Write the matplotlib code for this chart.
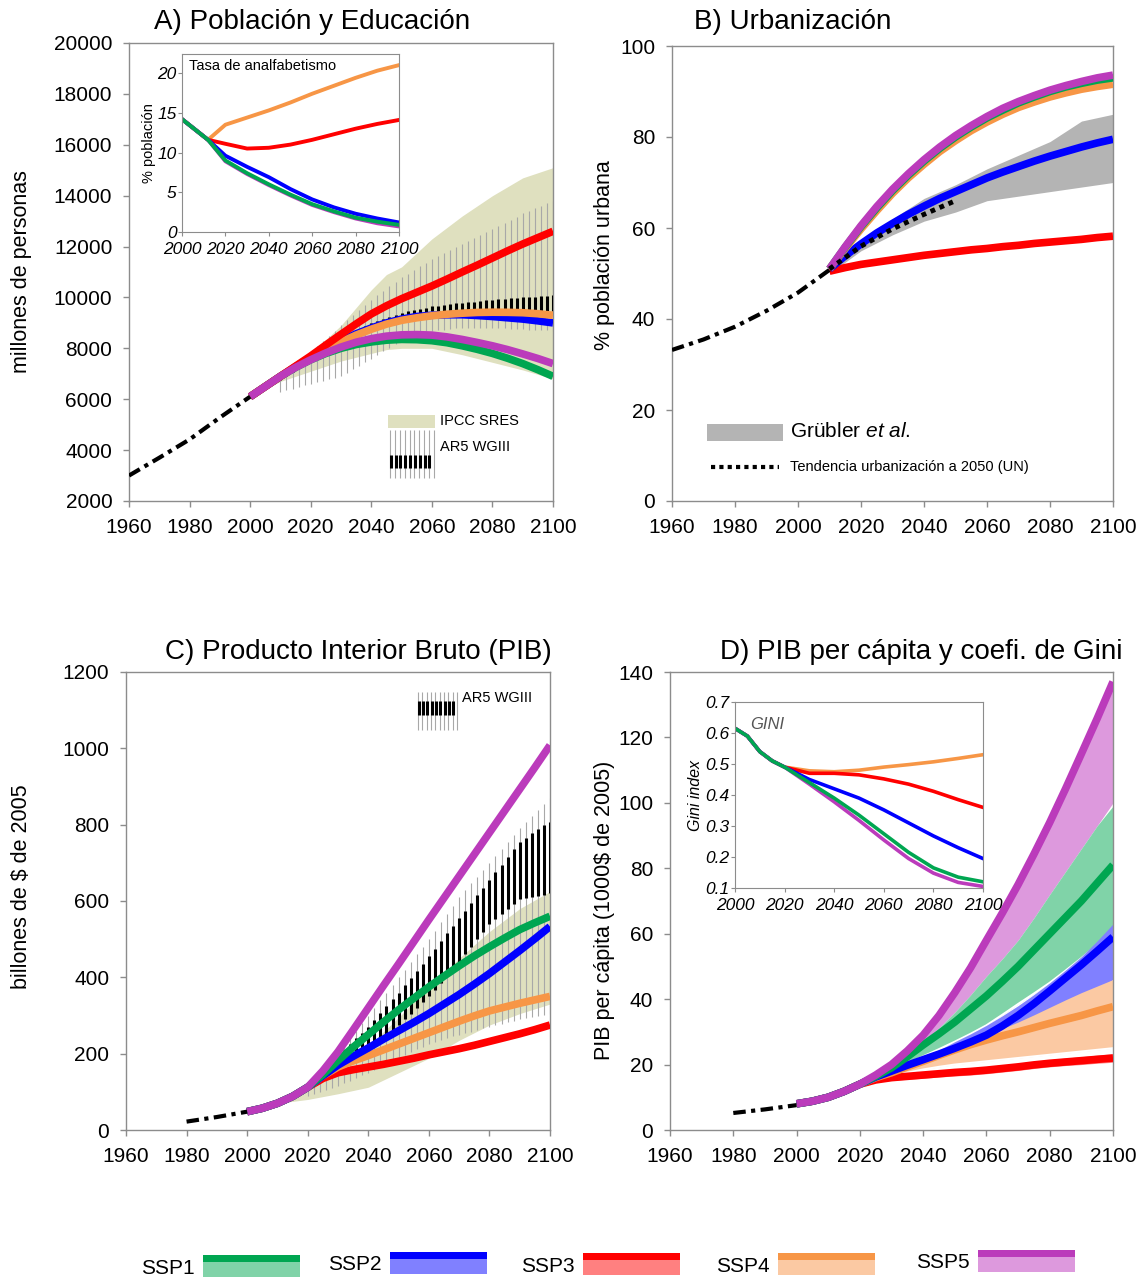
import matplotlib.pyplot as plt
from matplotlib.patches import Rectangle
import numpy as np

plt.rcParams["font.family"] = ["Liberation Sans", "DejaVu Sans"]
plt.rcParams["mathtext.fontset"] = "custom"
plt.rcParams["mathtext.rm"] = "Liberation Sans"
plt.rcParams["mathtext.it"] = "Liberation Sans:italic"

W, H = 1145, 1282

ssp_names = ["SSP1", "SSP2", "SSP3", "SSP4", "SSP5"]
ssp_colors = ["#00a651", "#0000ff", "#ff0000", "#f79646", "#bb3bbb"]
ssp_light = ["#80d3a8", "#8080ff", "#ff8080", "#fbc9a3", "#dd99dd"]
SRES_COLOR = "#dfe0bf"
HIST_STYLE = (0, (3, 1.3, 1, 1.3))

years5 = list(range(2000, 2101, 5))

# ---- A) poblacion (millones)
pop_hist_years = [1960, 1970, 1980, 1990, 2000]
pop_hist = [3000, 3700, 4420, 5280, 6100]
pop_ssp1 = [6100, 6500, 6900, 7250, 7550, 7800, 8000, 8150, 8250, 8320, 8350, 8340, 8300, 8220, 8100,
            7960, 7800, 7610, 7400, 7160, 6900]
pop_ssp2 = [6100, 6500, 6900, 7280, 7650, 8000, 8300, 8570, 8800, 9000, 9150, 9250, 9300, 9320, 9320,
            9290, 9250, 9200, 9150, 9080, 9000]
pop_ssp3 = [6100, 6500, 6900, 7300, 7700, 8130, 8550, 8960, 9350, 9670, 9950, 10200, 10450, 10720,
            11000, 11270, 11550, 11830, 12100, 12350, 12600]
pop_ssp4 = [6100, 6500, 6900, 7280, 7650, 7970, 8250, 8520, 8750, 8950, 9100, 9200, 9280, 9340, 9380,
            9410, 9420, 9415, 9400, 9360, 9300]
pop_ssp5 = [6100, 6500, 6900, 7250, 7550, 7820, 8050, 8240, 8380, 8480, 8530, 8540, 8520, 8450, 8350,
            8230, 8100, 7950, 7780, 7600, 7400]
pop_sres_years = [2000, 2010, 2020, 2030, 2040, 2045, 2050, 2060, 2070, 2080, 2090, 2100]
pop_sres_hi = [6100, 6900, 7800, 8900, 10300, 10900, 11200, 12300, 13200, 14000, 14700, 15100]
pop_sres_lo = [6100, 6700, 7100, 7500, 7800, 7950, 8000, 8000, 7750, 7450, 7150, 6800]
pop_ar5_years = list(range(2010, 2101, 2))
pop_ar5_hi = [6900, 7100, 7300, 7500, 7700, 7900, 8100, 8300, 8500, 8700, 8900, 9100, 9300, 9500, 9700,
              9900, 10080, 10260, 10440, 10620, 10800, 10940, 11080, 11220, 11360, 11500, 11620, 11740,
              11860, 11980, 12100, 12220, 12340, 12460, 12580, 12700, 12820, 12940, 13060, 13180, 13300,
              13400, 13500, 13600, 13700, 13800]
pop_ar5_lo = [6300, 6360, 6420, 6480, 6540, 6600, 6660, 6720, 6780, 6840, 6900, 7040, 7180, 7320, 7460,
              7600, 7740, 7880, 8020, 8160, 8300, 8380, 8460, 8540, 8620, 8700, 8720, 8740, 8760, 8780,
              8800, 8800, 8800, 8800, 8800, 8800, 8790, 8780, 8770, 8760, 8750, 8740, 8730, 8720, 8710, 8700]
pop_box_lo = [6750, 6910, 7070, 7230, 7390, 7550, 7690, 7830, 7970, 8110, 8250, 8370, 8490, 8610, 8730,
              8850, 8930, 9010, 9090, 9170, 9250, 9290, 9330, 9370, 9410, 9450, 9460, 9470, 9480, 9490,
              9500, 9500, 9500, 9500, 9500, 9500, 9498, 9496, 9494, 9492, 9490, 9488, 9486, 9484, 9482, 9480]
pop_box_hi = [6850, 7020, 7190, 7360, 7530, 7700, 7840, 7980, 8120, 8260, 8400, 8520, 8640, 8760, 8880,
              9000, 9080, 9160, 9240, 9320, 9400, 9450, 9500, 9550, 9600, 9650, 9680, 9710, 9740, 9770,
              9800, 9820, 9840, 9860, 9880, 9900, 9920, 9940, 9960, 9980, 10000, 10016, 10032, 10048,
              10064, 10080]

# inset: tasa de analfabetismo (%)
ill_years = [2000, 2012, 2020, 2030, 2040, 2050, 2060, 2070, 2080, 2090, 2100]
ill_ssp1 = [14.2, 11.6, 9.0, 7.4, 6.0, 4.7, 3.5, 2.6, 1.8, 1.3, 0.9]
ill_ssp2 = [14.2, 11.6, 9.6, 8.2, 6.9, 5.4, 4.1, 3.1, 2.3, 1.7, 1.2]
ill_ssp3 = [14.2, 11.6, 11.1, 10.5, 10.6, 11.0, 11.6, 12.3, 13.0, 13.6, 14.1]
ill_ssp4 = [14.2, 11.6, 13.5, 14.4, 15.3, 16.3, 17.4, 18.4, 19.4, 20.3, 21.0]
ill_ssp5 = [14.2, 11.6, 8.9, 7.3, 5.9, 4.6, 3.4, 2.5, 1.7, 1.1, 0.7]

# ---- B) urbanizacion (%)
urb_hist_years = [1960, 1970, 1980, 1990, 2000, 2010]
urb_hist = [33.2, 35.5, 38.3, 41.8, 45.8, 50.8]
urb_years = list(range(2010, 2101, 5))
urb_ssp1 = [51, 55.8, 60.3, 64.4, 68.2, 71.6, 74.7, 77.5, 80.0, 82.2, 84.2, 85.9, 87.5, 88.8, 90.0, 91.0,
            91.8, 92.5, 93.0]
urb_ssp2 = [51, 53.9, 56.5, 58.9, 61.0, 63.0, 64.8, 66.5, 68.0, 69.5, 71.0, 72.3, 73.5, 74.7, 75.8, 76.8,
            77.8, 78.7, 79.5]
urb_ssp3 = [50.5, 51.3, 52.0, 52.5, 53.0, 53.5, 54.0, 54.4, 54.8, 55.2, 55.5, 55.9, 56.2, 56.6, 56.9,
            57.2, 57.5, 57.9, 58.2]
urb_ssp4 = [51, 55.5, 59.8, 63.8, 67.6, 71.0, 74.0, 76.8, 79.2, 81.4, 83.3, 85.0, 86.5, 87.7, 88.8, 89.7,
            90.5, 91.1, 91.6]
urb_ssp5 = [51, 55.9, 60.5, 64.7, 68.5, 71.9, 75.0, 77.8, 80.3, 82.5, 84.5, 86.3, 87.8, 89.1, 90.3, 91.3,
            92.2, 93.0, 93.6]
urb_un_years = [2010, 2020, 2030, 2040, 2050]
urb_un = [51, 56.0, 59.8, 63.0, 66.0]
grubler_years = [2010, 2020, 2030, 2040, 2050, 2060, 2070, 2080, 2090, 2100]
urb_grubler_hi = [51, 57, 62, 66.5, 69.5, 73, 76, 79, 83.5, 85]
urb_grubler_lo = [50, 55, 58.5, 61.5, 63.5, 66, 67, 68, 69, 70]

# ---- C) PIB (billones $2005)
gdp_hist_years = [1980, 1990, 2000]
gdp_hist = [22, 34, 48]
gdp_ssp1 = [48, 57, 70, 88, 112, 145, 182, 217, 250, 283, 315, 345, 375, 403, 430, 456, 480, 503, 525,
            543, 560]
gdp_ssp2 = [48, 57, 70, 88, 112, 142, 170, 193, 215, 238, 260, 282, 305, 330, 355, 382, 410, 440, 470,
            501, 533]
gdp_ssp3 = [48, 57, 70, 88, 112, 135, 150, 158, 165, 172, 180, 188, 197, 205, 213, 222, 232, 242, 252,
            263, 275]
gdp_ssp4 = [48, 57, 70, 88, 112, 142, 165, 181, 195, 210, 225, 240, 255, 270, 285, 299, 312, 322, 332,
            341, 350]
gdp_ssp5 = [48, 57, 70, 88, 112, 155, 205, 262, 320, 378, 435, 493, 551, 608, 665, 722, 779, 836, 893,
            950, 1008]
gdp_sres_years = [2010, 2020, 2030, 2040, 2050, 2060, 2070, 2080, 2090, 2100]
gdp_sres_hi = [70, 112, 165, 220, 295, 375, 450, 520, 580, 625]
gdp_sres_lo = [70, 80, 95, 112, 150, 188, 235, 275, 305, 330]
gdp_ar5_years = list(range(2020, 2101, 2))
gdp_ar5_hi = [120, 135, 150, 165, 180, 200, 220, 240, 260, 280, 300, 320, 340, 360, 380, 400, 420, 440,
              460, 480, 500, 522, 544, 566, 588, 610, 628, 646, 664, 682, 700, 718, 736, 754, 772, 790,
              806, 822, 838, 854, 870]
gdp_ar5_lo = [90, 95, 100, 105, 110, 115, 122, 129, 136, 143, 150, 158, 166, 174, 182, 190, 197, 204,
              211, 218, 225, 230, 235, 240, 245, 250, 254, 258, 262, 266, 270, 274, 278, 282, 286, 290,
              293, 296, 299, 302, 305]
gdp_box_lo = [105, 116, 127, 138, 149, 160, 169, 178, 187, 196, 205, 219, 233, 247, 261, 275, 290, 305,
              320, 335, 350, 368, 386, 404, 422, 440, 460, 480, 500, 520, 540, 553, 566, 579, 592, 605,
              608, 611, 614, 617, 620]
gdp_box_hi = [115, 131, 147, 163, 179, 195, 210, 225, 240, 255, 270, 288, 306, 324, 342, 360, 379, 398,
              417, 436, 455, 475, 495, 515, 535, 555, 575, 595, 615, 635, 655, 675, 695, 715, 735, 755,
              766, 777, 788, 799, 808]

# ---- D) PIB per capita (1000$ 2005)
gpc_hist_years = [1980, 1990, 2000]
gpc_hist = [5.2, 6.3, 7.6]
gpc_ssp1 = [8, 8.8, 10, 11.8, 14, 16.4, 19, 22.4, 26, 29.4, 33, 37, 41, 45.4, 50, 55, 60, 65, 70, 75.5, 81]
gpc_ssp2 = [8, 8.8, 10, 11.8, 14, 16.2, 18, 19.8, 21.5, 23.2, 25, 26.9, 29, 31.8, 35, 38.6, 42.5, 46.5,
            50.5, 54.7, 59]
gpc_ssp3 = [8, 8.8, 10, 11.8, 14, 15.3, 16, 16.4, 16.8, 17.2, 17.6, 17.9, 18.3, 18.8, 19.3, 19.9, 20.4,
            20.8, 21.2, 21.6, 22]
gpc_ssp4 = [8, 8.8, 10, 11.8, 14, 16, 17.5, 19.3, 21, 22.8, 24.5, 26.1, 27.5, 28.8, 30, 31.3, 32.6, 33.8,
            35, 36.4, 37.7]
gpc_ssp5 = [8, 8.8, 10, 11.8, 14, 16.8, 20, 24.2, 29, 35, 42, 49.6, 58, 66.3, 75, 84.3, 94, 104.3, 115,
            125.8, 137]
band_years = list(range(2020, 2101, 5))
gpc_ssp5_lo = [14, 16.6, 19.5, 23, 27, 31.2, 36, 41.3, 47, 52.3, 58, 64.8, 72, 79, 86, 93, 100]
gpc_ssp1_hi = [14, 16.6, 19.5, 23, 27, 31.2, 36, 41.3, 47, 52.3, 58, 64.8, 72, 79, 86, 93, 99]
gpc_ssp1_lo = [14, 16, 18, 20.2, 22.5, 24.7, 27, 29.4, 32, 35.2, 38.5, 41.7, 45, 48.7, 52.5, 56.6, 61]
gpc_ssp2_hi = [14, 16.2, 18.2, 20, 22, 24.4, 27, 29.4, 32, 34.9, 38, 41.4, 45, 48.9, 53, 57.8, 63]
gpc_ssp2_lo = [14, 15.9, 17.5, 19.2, 21, 22.5, 24, 25.5, 27, 29, 31, 33, 35, 37.4, 40, 43, 46]
gpc_ssp4_hi = [14, 16.1, 18, 19.7, 21.5, 23.2, 25, 27, 29, 31, 33, 35.2, 37.5, 39.8, 42, 44, 46]
gpc_ssp4_lo = [14, 15.4, 16.5, 17.5, 18.5, 19.3, 20, 20.5, 21, 21.5, 22, 22.5, 23, 23.5, 24, 24.5, 25]
gpc_ssp3_hi = [14, 15.9, 16.8, 17.3, 17.8, 18.3, 18.7, 19.0, 19.4, 19.9, 20.4, 21.0, 21.5, 22.0, 22.4,
               22.9, 23.3]
gpc_ssp3_lo = [14, 14.7, 15.2, 15.5, 15.8, 16.2, 16.5, 16.8, 17.2, 17.7, 18.2, 18.8, 19.3, 19.7, 20.0,
               20.4, 20.7]

# inset: Gini
gini_years = [2000, 2005, 2010, 2015, 2020, 2030, 2040, 2050, 2060, 2070, 2080, 2090, 2100]
gini_ssp1 = [0.615, 0.59, 0.54, 0.51, 0.49, 0.44, 0.39, 0.335, 0.275, 0.215, 0.165, 0.135, 0.12]
gini_ssp2 = [0.615, 0.59, 0.54, 0.51, 0.49, 0.45, 0.42, 0.39, 0.352, 0.31, 0.268, 0.23, 0.195]
gini_ssp3 = [0.615, 0.59, 0.54, 0.51, 0.49, 0.47, 0.47, 0.465, 0.452, 0.435, 0.412, 0.385, 0.36]
gini_ssp4 = [0.615, 0.59, 0.54, 0.51, 0.49, 0.478, 0.475, 0.48, 0.49, 0.498, 0.507, 0.518, 0.53]
gini_ssp5 = [0.615, 0.59, 0.54, 0.51, 0.49, 0.435, 0.378, 0.318, 0.255, 0.195, 0.148, 0.118, 0.105]


def px_axes(fig, left, top, right, bottom):
    return fig.add_axes([left / W, 1 - bottom / H, (right - left) / W, (bottom - top) / H])


def style_main(ax, ylim, yticks):
    ax.set_xlim(1960, 2100)
    ax.set_ylim(*ylim)
    ax.set_xticks(range(1960, 2101, 20))
    ax.set_yticks(yticks)
    for sp in ax.spines.values():
        sp.set_color("#8c8c8c")
        sp.set_linewidth(1.0)
    ax.tick_params(direction="out", length=4, width=1, color="#8c8c8c", labelsize=15, pad=8,
                   top=False, right=False)


def style_inset(ax, ylim, yticks, yfmt):
    ax.set_xlim(2000, 2100)
    ax.set_ylim(*ylim)
    ax.set_xticks(range(2000, 2101, 20))
    ax.set_yticks(yticks)
    ax.set_yticklabels([yfmt.format(v) for v in yticks])
    for sp in ax.spines.values():
        sp.set_color("#8c8c8c")
    ax.tick_params(direction="out", length=3, color="#8c8c8c", labelsize=12.5)
    ax.tick_params(axis="x", pad=4)
    ax.tick_params(axis="y", pad=1)
    for lab in ax.get_xticklabels() + ax.get_yticklabels():
        lab.set_fontstyle("italic")


def plot_ssp(ax, years, series, order, lw=5.5):
    for k, i in enumerate(order):
        ax.plot(years, series[i], color=ssp_colors[i], lw=lw, solid_capstyle="butt",
                solid_joinstyle="round", zorder=4 + k * 0.1)


def ar5_marks(ax, years, lo, hi, box_lo, box_hi):
    ax.vlines(years, lo, hi, color="#a8a8a8", lw=0.8, zorder=2)
    ax.vlines(years, box_lo, box_hi, color="black", lw=2.2, zorder=3)


def ar5_legend(ax, x0, x1, y0, y1, yb0, yb1, tx, ty):
    xs = np.linspace(x0, x1, 10)
    ax.vlines(xs, y0, y1, color="#a8a8a8", lw=0.8, transform=ax.transAxes)
    ax.vlines(xs[:-1] + (xs[1] - xs[0]) * 0.1, yb0, yb1, color="black", lw=2.2, transform=ax.transAxes)
    ax.text(tx, ty, "AR5 WGIII", transform=ax.transAxes, fontsize=10.5, va="center")


fig = plt.figure(figsize=(W / 100, H / 100), dpi=100)

# ---------------- A
ax = px_axes(fig, 129, 43, 553, 501)
style_main(ax, (2000, 20000), range(2000, 20001, 2000))
ax.fill_between(pop_sres_years, pop_sres_lo, pop_sres_hi, color=SRES_COLOR, lw=0, zorder=1)
ar5_marks(ax, pop_ar5_years, pop_ar5_lo, pop_ar5_hi, pop_box_lo, pop_box_hi)
ax.plot(pop_hist_years, pop_hist, color="black", lw=3, ls=HIST_STYLE, zorder=5)
plot_ssp(ax, years5, [pop_ssp1, pop_ssp2, pop_ssp3, pop_ssp4, pop_ssp5], [1, 3, 0, 2, 4])
ax.add_patch(Rectangle((0.611, 0.159), 0.111, 0.029, transform=ax.transAxes, color=SRES_COLOR, lw=0))
ax.text(0.733, 0.175, "IPCC SRES", transform=ax.transAxes, fontsize=10.5, va="center")
ar5_legend(ax, 0.616, 0.719, 0.050, 0.155, 0.072, 0.100, 0.733, 0.118)

axi = px_axes(fig, 182, 54, 399, 232)
style_inset(axi, (0, 22.4), [0, 5, 10, 15, 20], "{:d}")
ill = [ill_ssp1, ill_ssp2, ill_ssp3, ill_ssp4, ill_ssp5]
for i in [3, 2, 1, 4, 0]:
    axi.plot(ill_years, ill[i], color=ssp_colors[i], lw=2.8)
axi.text(0.03, 0.93, "Tasa de analfabetismo", transform=axi.transAxes, fontsize=10.5, va="center")
axi.set_ylabel("% población", fontsize=10.5, labelpad=1)

# ---------------- B
ax = px_axes(fig, 672, 46, 1113, 501)
style_main(ax, (0, 100), range(0, 101, 20))
ax.fill_between(grubler_years, urb_grubler_lo, urb_grubler_hi, color="#b4b4b4", lw=0, zorder=1)
ax.plot(urb_hist_years, urb_hist, color="black", lw=3, ls=HIST_STYLE, zorder=5)
plot_ssp(ax, urb_years, [urb_ssp1, urb_ssp2, urb_ssp3, urb_ssp4, urb_ssp5], [2, 1, 3, 0, 4])
ax.plot(urb_un_years, urb_un, color="black", lw=3.5, ls=(0, (1, 1)), zorder=6)
ax.add_patch(Rectangle((0.079, 0.132), 0.173, 0.037, transform=ax.transAxes, color="#b4b4b4", lw=0))
ax.text(0.268, 0.152, "Grübler $et\\ al.$", transform=ax.transAxes, fontsize=15, va="center")
ax.plot([0.088, 0.243], [0.075, 0.075], color="black", lw=3, ls=(0, (1, 1)), transform=ax.transAxes)
ax.text(0.268, 0.075, "Tendencia urbanización a 2050 (UN)", transform=ax.transAxes, fontsize=10.5,
        va="center")

# ---------------- C
ax = px_axes(fig, 126, 672, 550, 1130)
style_main(ax, (0, 1200), range(0, 1201, 200))
ax.fill_between(gdp_sres_years, gdp_sres_lo, gdp_sres_hi, color=SRES_COLOR, lw=0, zorder=1)
ar5_marks(ax, gdp_ar5_years, gdp_ar5_lo, gdp_ar5_hi, gdp_box_lo, gdp_box_hi)
ax.plot(gdp_hist_years, gdp_hist, color="black", lw=3, ls=HIST_STYLE, zorder=5)
plot_ssp(ax, years5, [gdp_ssp1, gdp_ssp2, gdp_ssp3, gdp_ssp4, gdp_ssp5], [2, 3, 1, 0, 4])
ar5_legend(ax, 0.689, 0.781, 0.873, 0.956, 0.906, 0.937, 0.792, 0.943)

# ---------------- D
ax = px_axes(fig, 670, 672, 1113, 1130)
style_main(ax, (0, 140), range(0, 141, 20))
ax.fill_between(band_years, gpc_ssp5_lo, gpc_ssp5[4:], color=ssp_light[4], lw=0, zorder=1)
ax.fill_between(band_years, gpc_ssp1_lo, gpc_ssp1_hi, color=ssp_light[0], lw=0, zorder=1.1)
ax.plot(band_years, gpc_ssp1_lo, color="white", lw=1.5, zorder=1.15)
ax.fill_between(band_years, gpc_ssp2_lo, gpc_ssp2_hi, color=ssp_light[1], lw=0, zorder=1.2)
ax.fill_between(band_years, gpc_ssp4_lo, gpc_ssp4_hi, color=ssp_light[3], lw=0, zorder=1.3)
ax.plot(band_years, gpc_ssp4_lo, color="white", lw=1.5, zorder=1.35)
ax.fill_between(band_years, gpc_ssp3_lo, gpc_ssp3_hi, color=ssp_light[2], lw=0, zorder=1.4)
ax.plot(gpc_hist_years, gpc_hist, color="black", lw=3, ls=HIST_STYLE, zorder=5)
plot_ssp(ax, years5, [gpc_ssp1, gpc_ssp2, gpc_ssp3, gpc_ssp4, gpc_ssp5], [2, 3, 1, 0, 4])

axi = px_axes(fig, 735, 702, 983, 888)
axi.set_zorder(10)
style_inset(axi, (0.1, 0.7), [0.1, 0.2, 0.3, 0.4, 0.5, 0.6, 0.7], "{:.1f}")
gini = [gini_ssp1, gini_ssp2, gini_ssp3, gini_ssp4, gini_ssp5]
for i in [3, 2, 1, 4, 0]:
    axi.plot(gini_years, gini[i], color=ssp_colors[i], lw=2.6)
axi.text(0.06, 0.88, "GINI", transform=axi.transAxes, fontsize=12, style="italic", color="#555555",
         va="center")
axi.set_ylabel("Gini index", fontsize=11.5, style="italic", labelpad=2)

# ---------------- titles & y labels
titles = ["A) Población y Educación", "B) Urbanización", "C) Producto Interior Bruto (PIB)",
          "D) PIB per cápita y coefi. de Gini"]
title_xy = [(312, 22), (793, 22), (358, 652), (921, 652)]
for t, (x, y) in zip(titles, title_xy):
    fig.text(x / W, 1 - y / H, t, fontsize=20, ha="center", va="center")

ylabels = ["millones de personas", "% población urbana", "billones de $ de 2005",
           "PIB per cápita (1000$ de 2005)"]
ylabel_xy = [(22, 272), (604, 255), (22, 887), (604, 910)]
for t, (x, y) in zip(ylabels, ylabel_xy):
    fig.text(x / W, 1 - y / H, t, fontsize=15.5, rotation=90, ha="center", va="center")

# ---------------- bottom legend
lax = fig.add_axes([0, 0, 1, 64 / H])
lax.set_xlim(0, W)
lax.set_ylim(H, H - 64)
lax.axis("off")
leg_x = [203, 390, 583, 778, 978]
leg_top = [1255, 1252, 1253, 1253, 1250]
for i, name in enumerate(ssp_names):
    x, top = leg_x[i], leg_top[i]
    lax.add_patch(Rectangle((x, top + 7), 97, 15, color=ssp_light[i], lw=0))
    lax.add_patch(Rectangle((x, top), 97, 7, color=ssp_colors[i], lw=0))
    lax.text(x - 8, top + 13, name, fontsize=15, ha="right", va="center")

fig.savefig("out.png", dpi=100)
